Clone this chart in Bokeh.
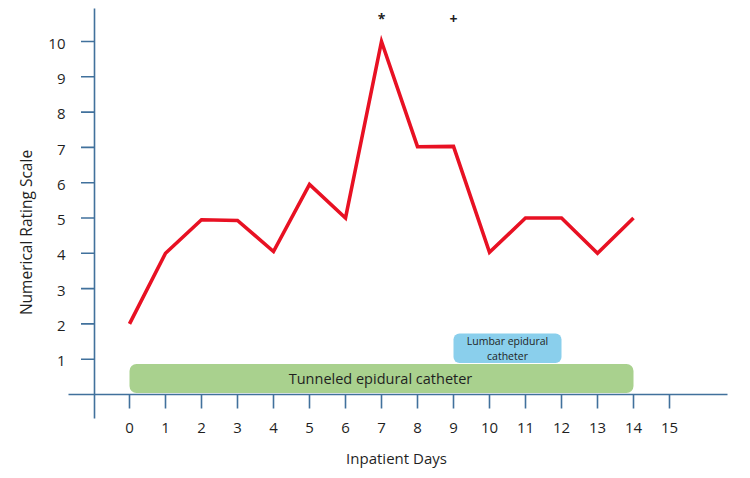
from bokeh.plotting import figure
from bokeh.models import Range1d
from bokeh.core.properties import value
from bokeh.embed import file_html
from bokeh.resources import INLINE
import math

# ---- data ----
days = [0, 1, 2, 3, 4, 5, 6, 7, 8, 9, 10, 11, 12, 13, 14]
nrs = [2, 4, 4.95, 4.93, 4.05, 5.95, 5, 10, 7.02, 7.03, 4.03, 5, 5, 4, 5]
x_ticks = list(range(0, 16))
x_tick_labels = [str(t) for t in x_ticks]
y_ticks = list(range(1, 11))
y_tick_labels = [str(t) for t in y_ticks]
tunneled = {"label": "Tunneled epidural catheter", "start": 0, "end": 14}
lumbar = {"label": "Lumbar epidural\ncatheter", "start": 9, "end": 12}
markers = {"day": [7, 9], "symbol": ["*", "+"]}
x_title = "Inpatient Days"
y_title = "Numerical Rating Scale"

# ---- layout constants (pixel mapping) ----
W, H = 750, 478
PX0, PXU = 129.0, 36.0     # pixel x of day 0, pixels per day
PY0, PYU = 394.0, 35.3     # pixel y of value 0, pixels per unit

def dx(px):
    return (px - PX0) / PXU

def dy(py):
    return (PY0 - py) / PYU

p = figure(width=W, height=H, output_backend="svg", toolbar_location=None,
           x_range=Range1d(dx(0), dx(W)), y_range=Range1d(dy(H), dy(0)),
           x_axis_location=None, y_axis_location=None, min_border=0,
           outline_line_color=None, background_fill_color="white",
           border_fill_color="white")
p.xgrid.visible = False
p.ygrid.visible = False

AX = "#41719C"
TXT = "#1F1F1F"
FONT = value("Open Sans")

# activity bars
p.quad(left=[tunneled["start"]], right=[tunneled["end"]], bottom=[dy(392.5)], top=[dy(363.5)],
       fill_color="#A9D18E", line_color=None, border_radius=7)
p.quad(left=[lumbar["start"]], right=[lumbar["end"]], bottom=[dy(362.5)], top=[dy(333)],
       fill_color="#8ACFEC", line_color=None, border_radius=6)

# axes
yaxis_x = dx(94)
p.segment(x0=[dx(68)], y0=[0], x1=[dx(727)], y1=[0], line_color=AX, line_width=1.6)
p.segment(x0=[yaxis_x], y0=[dy(418)], x1=[yaxis_x], y1=[dy(8)], line_color=AX, line_width=1.6)
p.segment(x0=x_ticks, y0=[0] * len(x_ticks), x1=x_ticks, y1=[dy(408)] * len(x_ticks),
          line_color=AX, line_width=1.6)
p.segment(x0=[dx(80.5)] * len(y_ticks), y0=y_ticks, x1=[yaxis_x] * len(y_ticks), y1=y_ticks,
          line_color=AX, line_width=1.6)

p.text(x=x_ticks, y=[dy(427)] * len(x_ticks), text=x_tick_labels, text_align="center",
       text_baseline="middle", text_font=FONT, text_font_size="15px", text_color=TXT)
p.text(x=[dx(65)] * len(y_ticks), y=[t - 0.06 for t in y_ticks], text=y_tick_labels,
       text_align="right", text_baseline="middle", text_font=FONT, text_font_size="15px",
       text_color=TXT)

# titles
p.text(x=[dx(396)], y=[dy(457)], text=[x_title], text_align="center", text_baseline="middle",
       text_font=FONT, text_font_size="15px", text_color=TXT)
p.text(x=[dx(25)], y=[dy(232)], text=[y_title], angle=math.pi / 2, text_align="center",
       text_baseline="middle", text_font=FONT, text_font_size="15.5px", text_color=TXT)

# bar labels
p.text(x=[dx(380)], y=[dy(378)], text=[tunneled["label"]], text_align="center",
       text_baseline="middle", text_font=FONT, text_font_size="14.5px", text_color=TXT)
p.text(x=[dx(507)], y=[dy(348)], text=[lumbar["label"]], text_align="center",
       text_baseline="middle", text_font=FONT, text_font_size="10.5px", text_color=TXT,
       text_line_height=1.1)

# data line
p.line(days, nrs, line_color="#E81123", line_width=3.6, line_join="miter")

# significance markers
p.text(x=markers["day"], y=[dy(18)] * 2, text=markers["symbol"], text_align="center",
       text_baseline="middle", text_font=FONT, text_font_size="14px", text_color=TXT,
       text_font_style="bold")

open("out.html", "w").write(file_html(p, INLINE))
